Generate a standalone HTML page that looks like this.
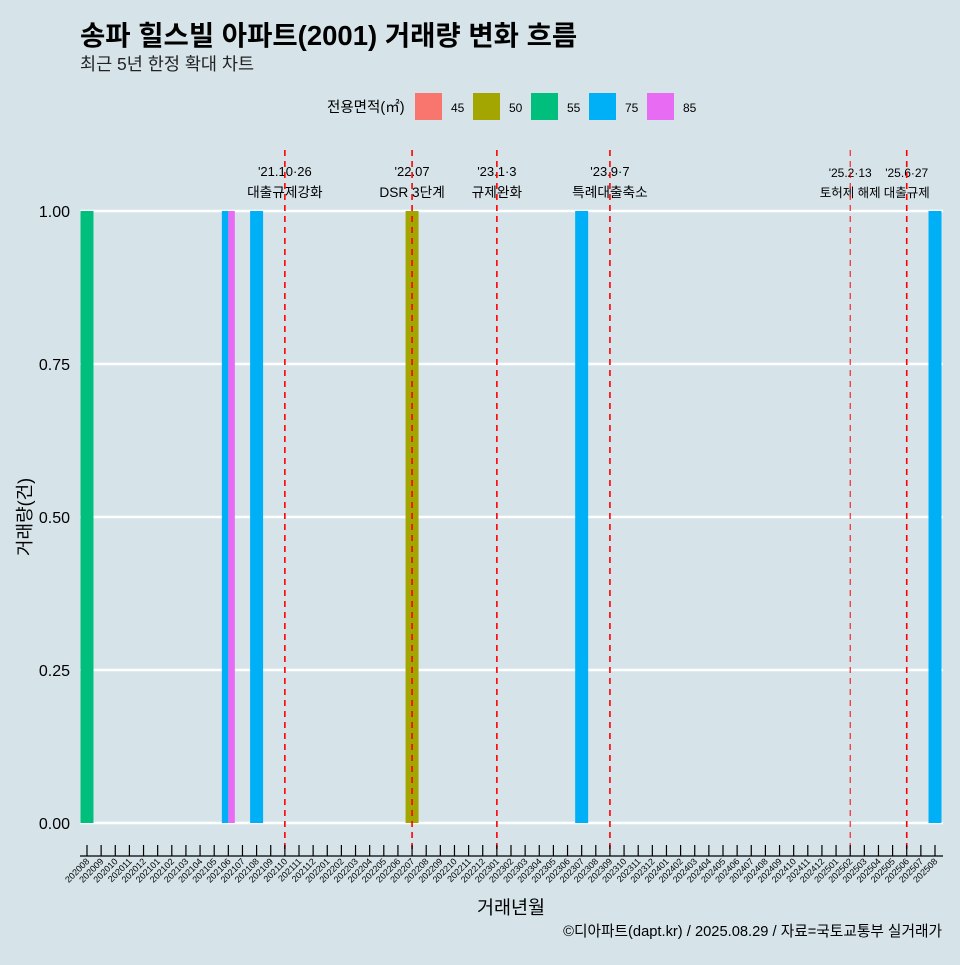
<!DOCTYPE html>
<html><head><meta charset="utf-8">
<style>
body{margin:0;background:#d6e4ea;font-family:"Liberation Sans","Noto Sans CJK KR",sans-serif;}
svg text{font-family:"Liberation Sans","Noto Sans CJK KR",sans-serif;}
</style></head>
<body>
<svg id="c" width="960" height="960">
<rect width="960" height="960" fill="#d6e4ea"/>
<text x="80" y="45" font-size="27.5" font-weight="bold" fill="#000">송파 힐스빌 아파트(2001) 거래량 변화 흐름</text>
<text x="80" y="70" font-size="17.5" fill="#222">최근 5년 한정 확대 차트</text>
<g id="legend">
<text x="327" y="112" font-size="14.5">전용면적(㎡)</text>
</g>
<g id="grid"></g>
<g id="bars"></g>
<g id="ann"></g>
<g id="xaxis"></g>
<text x="31" y="517" font-size="18" transform="rotate(-90 31 517)" text-anchor="middle">거래량(건)</text>
<text x="511" y="914" font-size="18.5" text-anchor="middle">거래년월</text>
<text x="942" y="936" font-size="14.7" text-anchor="end">©디아파트(dapt.kr) / 2025.08.29 / 자료=국토교통부 실거래가</text>
</svg>
<script>
const months=[];for(let y=2020;y<=2025;y++)for(let m=1;m<=12;m++){const k=y*100+m;if(k>=202008&&k<=202508)months.push(String(k));}
const areas=["45","50","55","75","85"];
const colors=["#f8766d","#a3a500","#00bf7d","#00b0f6","#e76bf3"];
const barMonths=["202008","202106","202106","202108","202207","202307","202508"];
const barAreas=["55","75","85","75","50","75","75"];
const barValues=[1,1,1,1,1,1,1];
const yTicks=[0,0.25,0.5,0.75,1];
const yTickLabels=["0.00","0.25","0.50","0.75","1.00"];
const eventMonths=["202110","202207","202301","202309","202502","202506"];
const eventLine1=["'21.10·26","'22.07","'23.1·3","'23.9·7","'25.2·13","'25.6·27"];
const eventLine2=["대출규제강화","DSR 3단계","규제완화","특례대출축소","토허제 해제","대출규제"];
const NS="http://www.w3.org/2000/svg";
function mk(t,a,p){const e=document.createElementNS(NS,t);for(const k in a)e.setAttribute(k,a[k]);p.appendChild(e);return e;}
const x0=87,step=(935-87)/(months.length-1),bw=13;
const X=m=>x0+months.indexOf(m)*step;
const Y=v=>823-v*612;
const grid=document.getElementById('grid');
yTicks.forEach((t,i)=>{
 const l=mk('line',{x1:80,x2:943,y1:Y(t),y2:Y(t),stroke:'#fff','stroke-width':2.5},grid);
 
 const tx=mk('text',{x:70,y:Y(t)+6,'font-size':16,'text-anchor':'end'},grid);tx.textContent=yTickLabels[i];
 
});
const lg=document.getElementById('legend');
areas.forEach((a,i)=>{
 const lx=415+i*58;
 const r=mk('rect',{x:lx,y:93,width:27,height:27,fill:colors[i]},lg);
 
 const t=mk('text',{x:lx+36,y:112,'font-size':12},lg);t.textContent=a;
 
});
const bars=document.getElementById('bars');
barMonths.forEach((m,i)=>{
 const same=barMonths.map((mm,j)=>mm===m?j:-1).filter(j=>j>=0);
 const n=same.length,k=same.indexOf(i),w=bw/n;
 const r=mk('rect',{x:X(m)-bw/2+k*w,y:Y(barValues[i]),width:w,height:Y(0)-Y(barValues[i]),fill:colors[areas.indexOf(barAreas[i])]},bars);
 
});
const ann=document.getElementById('ann');
eventMonths.forEach((m,i)=>{
 const x=X(m),small=i>=4;
 const t1=mk('text',{x:x,y:small?177:176,'font-size':small?12:13,'text-anchor':'middle'},ann);t1.textContent=eventLine1[i];
 
 const t2=mk('text',{x:x,y:197,'font-size':small?12.5:13.7,'text-anchor':'middle'},ann);t2.textContent=eventLine2[i];
 
});
eventMonths.forEach((m,i)=>{
 const l=mk('line',{x1:X(m),x2:X(m),y1:150,y2:853,stroke:'#ff0000','stroke-width':i==4?1:1.6,'stroke-dasharray':'6,5'},ann);
 
});
const xa=document.getElementById('xaxis');
const al=mk('line',{x1:80,x2:943,y1:856,y2:856,stroke:'#000','stroke-width':1.2},xa);

months.forEach(m=>{
 const x=X(m);
 const tk=mk('line',{x1:x,x2:x,y1:845,y2:856,stroke:'#000','stroke-width':1.2},xa);
 
 const t=mk('text',{x:x+3,y:862,'font-size':9,'text-anchor':'end',transform:`rotate(-45 ${x+3} 862)`},xa);t.textContent=m;
 
});
</script>
</body></html>
